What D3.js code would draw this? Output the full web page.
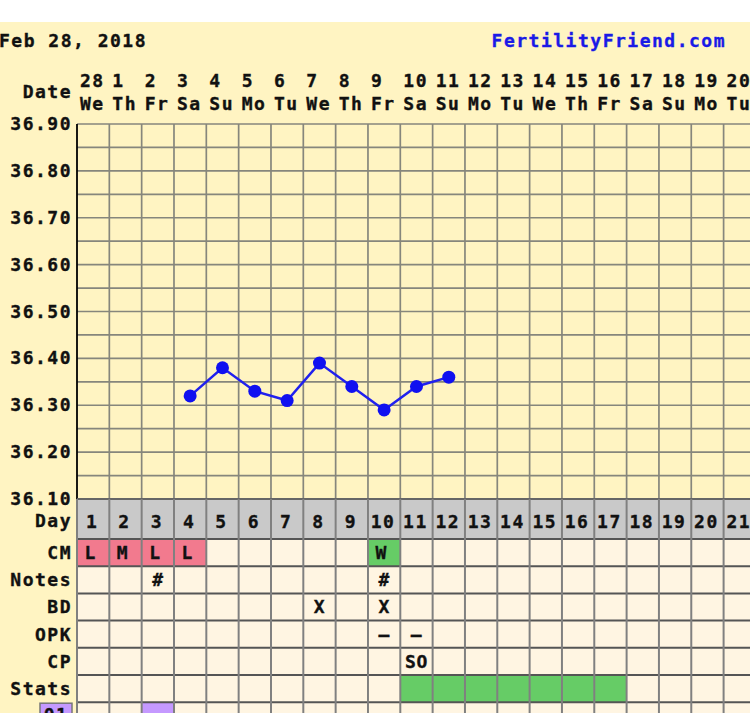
<!DOCTYPE html>
<html><head><meta charset="utf-8">
<script src="https://cdn.jsdelivr.net/npm/d3@7"></script>
<style>
html,body{margin:0;padding:0;background:#fff;overflow:hidden}
svg{display:block}
text{font-family:"DejaVu Sans Mono",monospace;font-weight:bold;font-size:18px;letter-spacing:1.5px;fill:#111;stroke:#111;stroke-width:0.35px}
</style></head><body>
<script>
const dates = ["28","1","2","3","4","5","6","7","8","9","10","11","12","13","14","15","16","17","18","19","20"];
const weekdays = ["We","Th","Fr","Sa","Su","Mo","Tu","We","Th","Fr","Sa","Su","Mo","Tu","We","Th","Fr","Sa","Su","Mo","Tu"];
const cycleDays = d3.range(1, 22);
const tempDays = [4, 5, 6, 7, 8, 9, 10, 11, 12];
const temps = [36.32, 36.38, 36.33, 36.31, 36.39, 36.34, 36.29, 36.34, 36.36];
const tempTicks = [36.10, 36.20, 36.30, 36.40, 36.50, 36.60, 36.70, 36.80, 36.90];
const rowLabels = ["CM", "Notes", "BD", "OPK", "CP", "Stats"];
const cmDays = [1, 2, 3, 4, 10];
const cmValues = ["L", "M", "L", "L", "W"];
const notesDays = [3, 10];
const notesValues = ["#", "#"];
const bdDays = [8, 10];
const bdValues = ["X", "X"];
const opkDays = [10, 11];
const opkValues = ["–", "–"];
const cpDays = [11];
const cpValues = ["SO"];
const statsDays = [11, 12, 13, 14, 15, 16, 17];
const extraDays = [3];
const extraLabel = "01";

const W = 750, H = 713;
const svg = d3.select("body").append("svg").attr("width", W).attr("height", H);

const left = 77, colW = 32.33;
const x = d3.scaleLinear().domain([0.5, 21.5]).range([left, left + 21 * colW]);
const y = d3.scaleLinear().domain([36.1, 36.9]).range([499, 124]);

svg.append("rect").attr("x", 0).attr("y", 22).attr("width", W).attr("height", H - 22).attr("fill", "#FFF4C2");

svg.append("text").attr("x", -1).attr("y", 47).text("Feb 28, 2018");
svg.append("text").attr("x", 726).attr("y", 47).attr("text-anchor", "end")
  .style("fill", "#1a1ae6").style("stroke", "#1a1ae6").text("FertilityFriend.com");

svg.append("text").attr("x", 72).attr("y", 98).attr("text-anchor", "end").text("Date");
const hdr = svg.append("g");
hdr.selectAll("text.d").data(dates).join("text").attr("class", "d")
  .attr("x", (d, i) => x(i + 0.5) + 3).attr("y", 87).text(d => d);
hdr.selectAll("text.w").data(weekdays).join("text").attr("class", "w")
  .attr("x", (d, i) => x(i + 0.5) + 3).attr("y", 110).text(d => d);

const grid = svg.append("g");
const hLines = d3.range(0, 17).map(i => 36.1 + i * 0.05);
grid.selectAll("line.h").data(hLines).join("line").attr("class", "h")
  .attr("x1", left).attr("x2", W).attr("y1", d => y(d)).attr("y2", d => y(d))
  .attr("stroke", "#86867c").attr("stroke-width", 1.7);
grid.selectAll("line.v").data(d3.range(1, 22)).join("line").attr("class", "v")
  .attr("x1", d => x(d + 0.5)).attr("x2", d => x(d + 0.5)).attr("y1", y(36.9)).attr("y2", y(36.1))
  .attr("stroke", "#86867c").attr("stroke-width", 1.7);
grid.append("line").attr("x1", left).attr("x2", left).attr("y1", y(36.9)).attr("y2", y(36.1))
  .attr("stroke", "#000").attr("stroke-width", 1.8);

svg.append("g").selectAll("text").data(tempTicks).join("text")
  .attr("x", 72).attr("y", d => y(d) + 6).attr("text-anchor", "end").text(d => d.toFixed(2));

svg.append("path").datum(temps.map((t, i) => [tempDays[i], t]))
  .attr("fill", "none").attr("stroke", "#2020ee").attr("stroke-width", 2.5)
  .attr("d", d3.line().x(d => x(d[0])).y(d => y(d[1])));
svg.append("g").selectAll("circle").data(temps).join("circle")
  .attr("cx", (d, i) => x(tempDays[i])).attr("cy", d => y(d)).attr("r", 6.5).attr("fill", "#1010f0");

const dayTop = 499, dayH = 40, rowH = 27.2;
const tbl = svg.append("g");
tbl.append("rect").attr("x", left).attr("y", dayTop).attr("width", W - left).attr("height", dayH).attr("fill", "#C9C9C9");
svg.append("text").attr("x", 72).attr("y", dayTop + 28).attr("text-anchor", "end").text("Day");
tbl.selectAll("text.day").data(cycleDays).join("text").attr("class", "day")
  .attr("x", d => x(d) - 1).attr("y", dayTop + 29).attr("text-anchor", "middle").text(d => d);

const rowsTop = dayTop + dayH;
const nRows = rowLabels.length + 1;
tbl.append("rect").attr("x", left).attr("y", rowsTop).attr("width", W - left).attr("height", H - rowsTop).attr("fill", "#FFF5E2");
const rowY = i => rowsTop + i * rowH;

function cells(days, fill, rowIdx) {
  tbl.append("g").selectAll("rect").data(days).join("rect")
    .attr("x", d => x(d - 0.5)).attr("y", rowY(rowIdx)).attr("width", colW).attr("height", rowH).attr("fill", fill);
}
function labels(days, vals, rowIdx, dx) {
  tbl.append("g").selectAll("text").data(vals).join("text")
    .attr("x", (d, i) => x(days[i]) + (dx || 0)).attr("y", rowY(rowIdx) + 20).attr("text-anchor", "middle")
    .style("letter-spacing", "0.5px").text(d => d);
}
cells(cmDays.filter((d, i) => cmValues[i] !== "W"), "#F27A8E", 0);
cells(cmDays.filter((d, i) => cmValues[i] === "W"), "#66CC66", 0);
cells(statsDays, "#66CC66", 5);
cells(extraDays, "#C599FF", 6);

tbl.append("g").selectAll("line").data(d3.range(0, nRows + 1)).join("line")
  .attr("x1", left).attr("x2", W).attr("y1", d => rowY(d)).attr("y2", d => rowY(d))
  .attr("stroke", "#555").attr("stroke-width", 2);
tbl.append("line").attr("x1", left).attr("x2", W).attr("y1", dayTop).attr("y2", dayTop).attr("stroke", "#666").attr("stroke-width", 2);
tbl.append("g").selectAll("line").data(d3.range(0, 22)).join("line")
  .attr("x1", d => x(d + 0.5)).attr("x2", d => x(d + 0.5)).attr("y1", dayTop).attr("y2", H)
  .attr("stroke", "#808080").attr("stroke-width", 2);

labels(cmDays, cmValues, 0, -3);
labels(notesDays, notesValues, 1);
labels(bdDays, bdValues, 2);
labels(opkDays, opkValues, 3);
labels(cpDays, cpValues, 4);

svg.append("g").selectAll("text").data(rowLabels).join("text")
  .attr("x", 72).attr("y", (d, i) => rowY(i) + 20).attr("text-anchor", "end").text(d => d);

svg.append("rect").attr("x", 40).attr("y", rowY(6) + 1).attr("width", 32).attr("height", 24)
  .attr("fill", "#C599FF").attr("stroke", "#777").attr("stroke-width", 1.5);
svg.append("text").attr("x", 56).attr("y", rowY(6) + 19).attr("text-anchor", "middle").text(extraLabel);

svg.append("rect").attr("x", 0).attr("y", 0).attr("width", W).attr("height", 22).attr("fill", "#fff");
</script>
</body></html>
